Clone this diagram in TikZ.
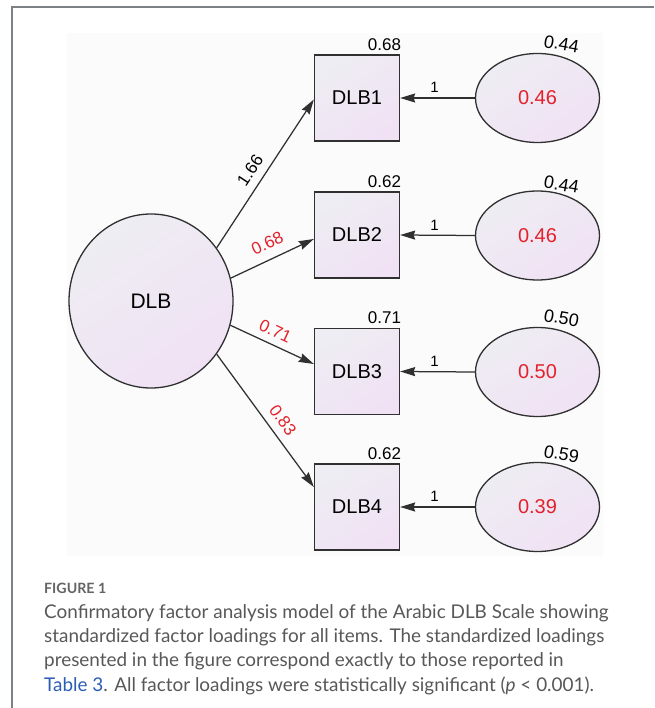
\documentclass[tikz,border=0pt]{standalone}
\usepackage{fontspec}
\setmainfont{Liberation Sans}
\newfontfamily\capfont{Lato}
\usetikzlibrary{arrows.meta,shapes.geometric,calc}
\definecolor{strokec}{HTML}{303030}
\definecolor{redc}{HTML}{E3212B}
\definecolor{topc}{HTML}{EEEDF3}
\definecolor{botc}{HTML}{F0E2F4}
\definecolor{bgc}{HTML}{FBFBFB}
\definecolor{framec}{HTML}{7C8187}
\definecolor{capc}{HTML}{585858}
\definecolor{figc}{HTML}{646464}
\definecolor{linkc}{HTML}{2B5DB5}
\tikzset{
  shadefill/.style={top color=topc, bottom color=botc, shading angle=35, draw=strokec, line width=1.3pt},
  latent/.style={ellipse, shadefill, inner sep=0pt, font=\fontsize{21}{24}\selectfont},
  obsbox/.style={rectangle, shadefill, minimum width=85pt, minimum height=86pt, inner sep=0pt, font=\fontsize{20}{23}\selectfont},
  errell/.style={ellipse, shadefill, minimum width=124pt, minimum height=89pt, inner sep=0pt, text=redc, font=\fontsize{20}{23}\selectfont},
  arr/.style={draw=strokec, line width=1.25pt, -{Stealth[length=15pt,width=9pt,inset=1.5pt]}},
  lab/.style={inner sep=0pt, font=\fontsize{17}{19}\selectfont},
  redlab/.style={lab, text=redc},
  varlab/.style={inner sep=0pt, font=\fontsize{17}{19}\selectfont},
  errlab/.style={inner sep=0pt, rotate=-10, font=\fontsize{18}{20}\selectfont},
  onelab/.style={inner sep=0pt, pos=0.54, above=4.5pt, font=\fontsize{15}{17}\selectfont},
  caplines/.style={anchor=base west, inner sep=0pt, text=capc, font=\capfont\fontsize{18.9}{22}\selectfont},
}
\begin{document}
\begin{tikzpicture}[x=1pt,y=-1pt]
\useasboundingbox (0,0) rectangle (654,708);
\fill[white] (0,0) rectangle (654,708);
\fill[bgc] (67,33) rectangle (603,556);
\draw[framec, line width=1.5pt] (12,708) -- (12,7) -- (654,7);

% latent factor
\node[latent, minimum width=164pt, minimum height=174pt] (dlb) at (151,301) {DLB};

% observed items
\node[obsbox] (b1) at (357,98) {DLB1};
\node[obsbox] (b2) at (357,235) {DLB2};
\node[obsbox] (b3) at (357,371.5) {DLB3};
\node[obsbox] (b4) at (357,507) {DLB4};

% error terms
\node[errell] (e1) at (537.5,98) {0.46};
\node[errell] (e2) at (537.5,235.5) {0.46};
\node[errell] (e3) at (537.5,372) {0.50};
\node[errell] (e4) at (537.5,507) {0.39};

% R^2 labels above boxes
\node[varlab, anchor=base east] (r1) at ([xshift=1pt,yshift=4pt]b1.north east) {0.68};
\node[varlab, anchor=base east] (r2) at ([xshift=1pt,yshift=4pt]b2.north east) {0.62};
\node[varlab, anchor=base east] (r3) at ([xshift=1pt,yshift=4pt]b3.north east) {0.71};
\node[varlab, anchor=base east] (r4) at ([xshift=1pt,yshift=4pt]b4.north east) {0.62};

% labels above error ellipses
\node[errlab] (v1) at ([xshift=24pt,yshift=54pt]e1.center) {0.44};
\node[errlab] (v2) at ([xshift=24pt,yshift=51pt]e2.center) {0.44};
\node[errlab] (v3) at ([xshift=24pt,yshift=54pt]e3.center) {0.50};
\node[errlab] (v4) at ([xshift=24pt,yshift=53pt]e4.center) {0.59};

% loadings
\draw[arr] (dlb.39) -- ([yshift=-1.5pt]b1.west) node[lab, pos=0.47, sloped, above=8pt] {1.66};
\draw[arr] (dlb.16) -- ([yshift=-4pt]b2.west) node[redlab, pos=0.52, sloped, above=9pt] {0.68};
\draw[arr] (dlb.-17) -- ([yshift=7.5pt]b3.west) node[redlab, pos=0.47, sloped, above=7pt] {0.71};
\draw[arr] (dlb.-39) -- ([yshift=20pt]b4.west) node[redlab, pos=0.56, sloped, above=8pt] {0.83};

% error paths
\draw[arr] (e1.west) -- (b1.east) node[onelab] {1};
\draw[arr] (e2.west) -- (b2.east) node[onelab] {1};
\draw[arr] (e3.west) -- (b3.east) node[onelab] {1};
\draw[arr] (e4.west) -- (b4.east) node[onelab] {1};

% caption
\node[anchor=base west, inner sep=0pt, text=figc, font=\capfont\bfseries\fontsize{14.2}{16}\selectfont] (fig) at (44,593) {FIGURE 1};
\node[caplines] (c1) at (44,618) {Confirmatory factor analysis model of the Arabic DLB Scale showing};
\node[caplines] (c2) at (44,642.3) {standardized factor loadings for all items. The standardized loadings};
\node[caplines] (c3) at (44,666.6) {presented in the figure correspond exactly to those reported in};
\node[caplines] (c4) at (44,691) {\textcolor{linkc}{Table 3}. All factor loadings were statistically significant (\textit{p} < 0.001).};
\end{tikzpicture}
\end{document}
